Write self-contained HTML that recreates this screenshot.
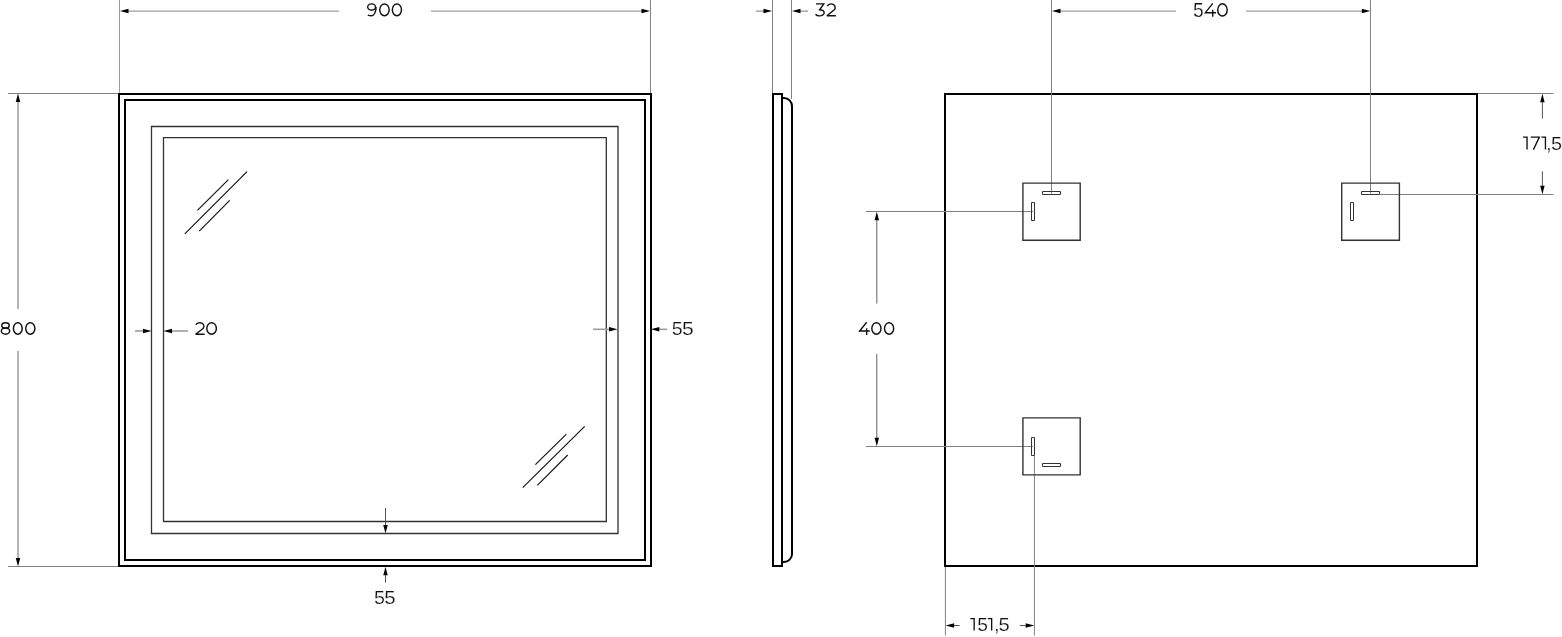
<!DOCTYPE html>
<html><head><meta charset="utf-8"><style>
html,body{margin:0;padding:0;background:#fff;}
body{width:1562px;height:637px;overflow:hidden;}
svg{display:block;font-family:"Liberation Sans",sans-serif;}
svg{will-change:transform;}
</style></head><body>
<svg width="1562" height="637" viewBox="0 0 1562 637">
<rect width="1562" height="637" fill="#fff"/>
<line x1="119.5" y1="0" x2="119.5" y2="93" stroke="#9e9e9e" stroke-width="1"/>
<line x1="650.5" y1="0" x2="650.5" y2="93" stroke="#808080" stroke-width="1"/>
<line x1="8" y1="93.5" x2="118" y2="93.5" stroke="#808080" stroke-width="1"/>
<line x1="8" y1="566.5" x2="118" y2="566.5" stroke="#808080" stroke-width="1"/>
<line x1="126" y1="11.15" x2="339" y2="11.15" stroke="#9e9e9e" stroke-width="1.4"/>
<line x1="431" y1="11.15" x2="643" y2="11.15" stroke="#9e9e9e" stroke-width="1.4"/>
<polygon points="120.00,11.00 128.50,8.75 128.50,13.25" fill="#000"/>
<polygon points="650.00,11.00 641.50,8.75 641.50,13.25" fill="#000"/>
<ellipse cx="371.61" cy="7.06" rx="3.91" ry="3.16" stroke="#111" stroke-width="1.4" fill="none"/>
<path d="M376.10,7.06 A4.69,8.74 0 0 1 371.41,15.80 Q369.45,15.80 367.78,15.20" stroke="#111" stroke-width="1.4" fill="none"/>
<ellipse cx="384.45" cy="9.85" rx="4.72" ry="5.93" stroke="#111" stroke-width="1.45" fill="none"/>
<ellipse cx="396.90" cy="9.85" rx="4.57" ry="5.93" stroke="#111" stroke-width="1.45" fill="none"/>
<line x1="18" y1="100" x2="18" y2="309" stroke="#b3b3b3" stroke-width="2"/>
<line x1="18" y1="351" x2="18" y2="560" stroke="#b3b3b3" stroke-width="2"/>
<polygon points="18.00,93.60 15.75,102.10 20.25,102.10" fill="#000"/>
<polygon points="18.00,566.40 15.75,557.90 20.25,557.90" fill="#000"/>
<ellipse cx="5.50" cy="331.12" rx="4.18" ry="3.06" stroke="#111" stroke-width="1.45" fill="none"/>
<ellipse cx="5.50" cy="325.39" rx="3.73" ry="2.67" stroke="#111" stroke-width="1.45" fill="none"/>
<ellipse cx="17.80" cy="328.45" rx="4.38" ry="5.72" stroke="#111" stroke-width="1.45" fill="none"/>
<ellipse cx="30.30" cy="328.45" rx="4.58" ry="5.72" stroke="#111" stroke-width="1.45" fill="none"/>
<path d="M119,94 H651 V566 H119 Z" stroke="#000" stroke-width="2" fill="none" />
<path d="M125,100 H645 V560 H125 Z" stroke="#000" stroke-width="2" fill="none" />
<path d="M151.5,126.5 H618 V533.5 H151.5 Z" stroke="#333" stroke-width="1.3" fill="none" />
<path d="M163.5,137.7 H606.3 V521.5 H163.5 Z" stroke="#333" stroke-width="1.3" fill="none" />
<line x1="184.8" y1="233.8" x2="247.0" y2="171.7" stroke="#111" stroke-width="1.15"/>
<line x1="197.4" y1="210.4" x2="228.4" y2="179.6" stroke="#111" stroke-width="1.15"/>
<line x1="199.3" y1="231.1" x2="229.7" y2="200.3" stroke="#111" stroke-width="1.15"/>
<line x1="522.7" y1="487.7" x2="584.7" y2="426.3" stroke="#111" stroke-width="1.15"/>
<line x1="535.4" y1="464.7" x2="566.4" y2="434.1" stroke="#111" stroke-width="1.15"/>
<line x1="537.3" y1="485.4" x2="567.7" y2="455" stroke="#111" stroke-width="1.15"/>
<line x1="135" y1="331" x2="144" y2="331" stroke="#9e9e9e" stroke-width="1.6"/>
<polygon points="151.50,331.00 143.00,328.75 143.00,333.25" fill="#000"/>
<line x1="171" y1="331" x2="188" y2="331" stroke="#9e9e9e" stroke-width="1.6"/>
<polygon points="163.50,331.00 172.00,328.75 172.00,333.25" fill="#000"/>
<path d="M195.96,324.81 A4.15,3.56 0 1 1 203.02,328.45 L195.60,334.20 H204.60" stroke="#111" stroke-width="1.4" fill="none" stroke-linejoin="miter" stroke-miterlimit="3"/>
<ellipse cx="211.60" cy="328.45" rx="4.78" ry="5.72" stroke="#111" stroke-width="1.45" fill="none"/>
<line x1="593" y1="329.3" x2="610" y2="329.3" stroke="#9e9e9e" stroke-width="1.6"/>
<polygon points="617.50,329.30 609.00,327.05 609.00,331.55" fill="#000"/>
<line x1="659" y1="329.3" x2="667" y2="329.3" stroke="#9e9e9e" stroke-width="1.6"/>
<polygon points="650.80,329.30 659.30,327.05 659.30,331.55" fill="#000"/>
<text transform="translate(671.81,334.72) scale(1.0601,1)" font-size="18.50" fill="#111" stroke="#fff" stroke-width="0.2">5</text>
<text transform="translate(681.96,334.72) scale(1.1399,1)" font-size="18.50" fill="#111" stroke="#fff" stroke-width="0.2">5</text>
<line x1="385.5" y1="508" x2="385.5" y2="526" stroke="#555" stroke-width="1"/>
<polygon points="385.50,533.60 383.25,525.10 387.75,525.10" fill="#000"/>
<line x1="385.5" y1="574" x2="385.5" y2="582.6" stroke="#555" stroke-width="1"/>
<polygon points="385.50,566.70 383.25,575.20 387.75,575.20" fill="#000"/>
<text transform="translate(373.91,603.52) scale(1.0935,1)" font-size="17.94" fill="#111" stroke="#fff" stroke-width="0.2">5</text>
<text transform="translate(384.18,603.52) scale(1.1406,1)" font-size="17.94" fill="#111" stroke="#fff" stroke-width="0.2">5</text>
<line x1="772.5" y1="0" x2="772.5" y2="93" stroke="#808080" stroke-width="1"/>
<line x1="791.5" y1="0" x2="791.5" y2="99" stroke="#808080" stroke-width="1"/>
<line x1="756" y1="11.15" x2="765" y2="11.15" stroke="#9e9e9e" stroke-width="1.4"/>
<polygon points="772.00,11.00 763.50,8.75 763.50,13.25" fill="#000"/>
<line x1="799" y1="11.15" x2="808" y2="11.15" stroke="#9e9e9e" stroke-width="1.4"/>
<polygon points="792.00,11.00 800.50,8.75 800.50,13.25" fill="#000"/>
<path d="M815.97,3.90 H823.76 L819.58,9.75 A4.62,3.02 0 1 1 815.50,14.20" stroke="#111" stroke-width="1.4" fill="none" stroke-linejoin="miter" stroke-miterlimit="4"/>
<path d="M827.26,6.09 A4.15,3.69 0 1 1 834.32,9.86 L826.90,15.80 H835.90" stroke="#111" stroke-width="1.4" fill="none" stroke-linejoin="miter" stroke-miterlimit="3"/>
<path d="M773,94 H782 V566 H773 Z" stroke="#000" stroke-width="2" fill="none" />
<path d="M782,98 H784 A8,8 0 0 1 792,106 V554 A8,8 0 0 1 784,562 H782" stroke="#000" stroke-width="2" fill="none" />
<path d="M945,94 H1477 V566 H945 Z" stroke="#000" stroke-width="2" fill="none" />
<line x1="1051.5" y1="0" x2="1051.5" y2="193.5" stroke="#808080" stroke-width="1"/>
<line x1="1370.5" y1="0" x2="1370.5" y2="193.5" stroke="#808080" stroke-width="1"/>
<line x1="866" y1="211.5" x2="1033" y2="211.5" stroke="#808080" stroke-width="1"/>
<line x1="866" y1="446.5" x2="1033" y2="446.5" stroke="#808080" stroke-width="1"/>
<line x1="1034.4" y1="456" x2="1034.4" y2="635.5" stroke="#808080" stroke-width="1"/>
<line x1="945.4" y1="567" x2="945.4" y2="635.5" stroke="#808080" stroke-width="1"/>
<line x1="1478" y1="93.5" x2="1553.3" y2="93.5" stroke="#808080" stroke-width="1"/>
<line x1="1380" y1="194.5" x2="1553.3" y2="194.5" stroke="#808080" stroke-width="1"/>
<path d="M1022.9,183.1 H1080.2 V240.2 H1022.9 Z" stroke="#333" stroke-width="1.4" fill="none" />
<path d="M1022.9,417.9 H1080.2 V474.9 H1022.9 Z" stroke="#333" stroke-width="1.4" fill="none" />
<path d="M1341.7,183.1 H1399.4 V240.2 H1341.7 Z" stroke="#333" stroke-width="1.4" fill="none" />
<path d="M1042.5,191.5 H1060.5 V194.5 H1042.5 Z" stroke="#333" stroke-width="1.0" fill="none" />
<path d="M1031.5,202.5 H1034.5 V220.5 H1031.5 Z" stroke="#333" stroke-width="1.0" fill="none" />
<path d="M1031.5,437.5 H1034.5 V455.5 H1031.5 Z" stroke="#333" stroke-width="1.0" fill="none" />
<path d="M1042.5,463.5 H1060.5 V466.5 H1042.5 Z" stroke="#333" stroke-width="1.0" fill="none" />
<path d="M1361.5,191.5 H1379.5 V194.5 H1361.5 Z" stroke="#333" stroke-width="1.0" fill="none" />
<path d="M1350.5,202.5 H1353.5 V220.5 H1350.5 Z" stroke="#333" stroke-width="1.0" fill="none" />
<line x1="1059" y1="11.15" x2="1176" y2="11.15" stroke="#9e9e9e" stroke-width="1.4"/>
<line x1="1246" y1="11.15" x2="1363" y2="11.15" stroke="#9e9e9e" stroke-width="1.4"/>
<polygon points="1052.00,11.00 1060.50,8.75 1060.50,13.25" fill="#000"/>
<polygon points="1370.30,11.00 1361.80,8.75 1361.80,13.25" fill="#000"/>
<text transform="translate(1193.03,16.61) scale(0.9919,1)" font-size="19.35" fill="#111" stroke="#fff" stroke-width="0.2">5</text>
<path d="M1212.75,3.40 L1205.40,12.69 H1216.00 M1212.75,9.68 V16.80" stroke="#111" stroke-width="1.4" fill="none" stroke-linejoin="miter" stroke-miterlimit="3"/>
<ellipse cx="1222.45" cy="9.95" rx="4.73" ry="6.13" stroke="#111" stroke-width="1.45" fill="none"/>
<line x1="1542.4" y1="102" x2="1542.4" y2="118.6" stroke="#555" stroke-width="1"/>
<polygon points="1542.40,93.80 1540.15,102.30 1544.65,102.30" fill="#000"/>
<line x1="1542.4" y1="171.4" x2="1542.4" y2="187" stroke="#555" stroke-width="1"/>
<polygon points="1542.40,194.30 1540.15,185.80 1544.65,185.80" fill="#000"/>
<path d="M1523.00,137.15 H1527.05 V149.52" stroke="#111" stroke-width="1.35" fill="none"/>
<path d="M1530.70,137.10 H1539.30 L1533.40,149.70" stroke="#111" stroke-width="1.4" fill="none" stroke-linejoin="miter" stroke-miterlimit="3"/>
<path d="M1541.40,137.15 H1545.45 V149.52" stroke="#111" stroke-width="1.35" fill="none"/>
<text transform="translate(1546.31,149.52) scale(1.0000,1)" font-size="18.79" fill="#111" stroke="#fff" stroke-width="0.2">,</text>
<text transform="translate(1551.01,149.52) scale(1.0554,1)" font-size="18.79" fill="#111" stroke="#fff" stroke-width="0.2">5</text>
<line x1="876.8" y1="219" x2="876.8" y2="303.6" stroke="#777" stroke-width="1.15"/>
<line x1="876.8" y1="354" x2="876.8" y2="439" stroke="#777" stroke-width="1.15"/>
<polygon points="876.80,211.80 874.55,220.30 879.05,220.30" fill="#000"/>
<polygon points="876.80,446.20 874.55,437.70 879.05,437.70" fill="#000"/>
<path d="M866.67,322.30 L859.60,331.03 H869.80 M866.67,328.19 V334.90" stroke="#111" stroke-width="1.4" fill="none" stroke-linejoin="miter" stroke-miterlimit="3"/>
<ellipse cx="876.40" cy="328.45" rx="4.58" ry="5.72" stroke="#111" stroke-width="1.45" fill="none"/>
<ellipse cx="889.10" cy="328.45" rx="4.58" ry="5.72" stroke="#111" stroke-width="1.45" fill="none"/>
<line x1="953" y1="625.5" x2="959.7" y2="625.5" stroke="#555" stroke-width="1"/>
<polygon points="945.60,625.50 954.10,623.25 954.10,627.75" fill="#000"/>
<line x1="1019.8" y1="625.5" x2="1027" y2="625.5" stroke="#555" stroke-width="1"/>
<polygon points="1034.20,625.50 1025.70,623.25 1025.70,627.75" fill="#000"/>
<path d="M970.30,618.55 H974.15 V630.62" stroke="#111" stroke-width="1.35" fill="none"/>
<text transform="translate(977.13,630.62) scale(1.0453,1)" font-size="18.36" fill="#111" stroke="#fff" stroke-width="0.2">5</text>
<path d="M987.90,618.55 H991.65 V630.62" stroke="#111" stroke-width="1.35" fill="none"/>
<text transform="translate(994.25,630.62) scale(1.0000,1)" font-size="18.36" fill="#111" stroke="#fff" stroke-width="0.2">,</text>
<text transform="translate(998.49,630.62) scale(1.1027,1)" font-size="18.36" fill="#111" stroke="#fff" stroke-width="0.2">5</text>
</svg>
</body></html>
